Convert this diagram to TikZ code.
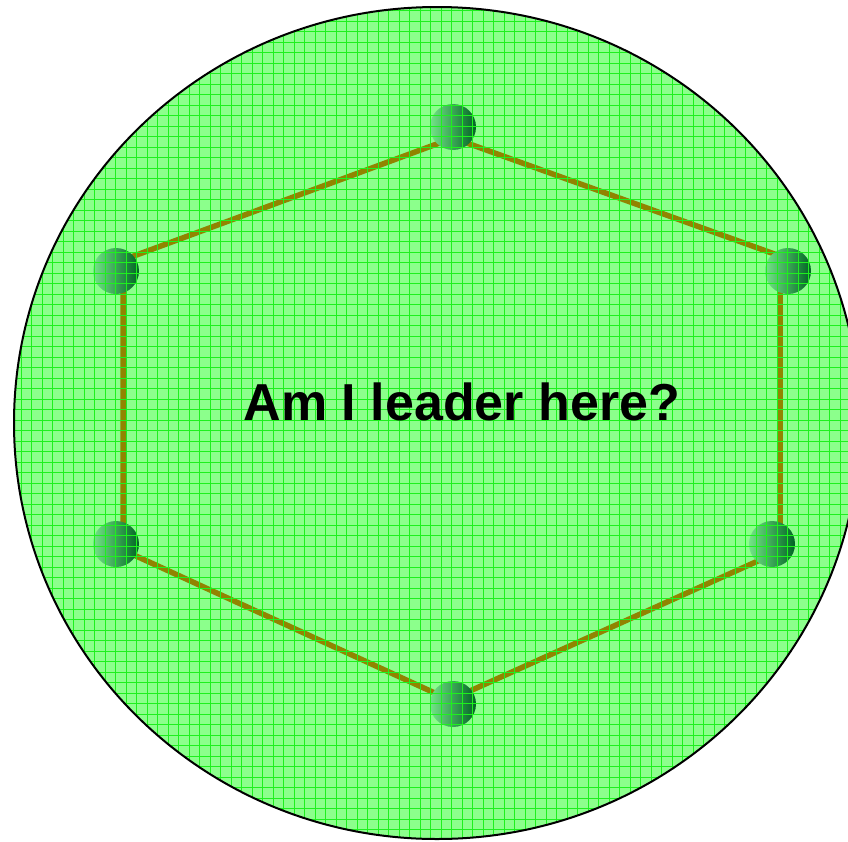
\documentclass[tikz,border=0pt]{standalone}
\usepackage{fontspec}
\setmainfont{Liberation Sans}

\definecolor{disk}{RGB}{140,255,140}
\definecolor{gridgreen}{RGB}{30,240,30}
\definecolor{ring}{RGB}{145,132,0}
\definecolor{balllight}{RGB}{115,228,135}
\definecolor{ballmid}{RGB}{80,200,105}
\definecolor{balldark}{RGB}{0,100,35}

\begin{document}
\begin{tikzpicture}[x=1pt,y=-1pt]
\useasboundingbox (0,0) rectangle (848,841);

% Disk background
\fill[disk] (437,423) ellipse [x radius=423, y radius=416];

% Corners of the ring
\coordinate (cT) at (453,138);
\coordinate (cUR) at (780,256);
\coordinate (cLR) at (780,551);
\coordinate (cB) at (450,700);
\coordinate (cLL) at (123,550);
\coordinate (cUL) at (123,260);

\draw[ring, line width=5.5pt] (cT) -- (cUR) -- (cLR) -- (cB) -- (cLL) -- (cUL) -- cycle;

% Draw the processes
\begin{scope}
\tikzstyle{every node}=[shape=circle,minimum size=46pt,inner sep=0pt,anchor=center,left color=balllight,middle color=ballmid,right color=balldark];
\node (pT) at (453,127) {};
\node (pUR) at (788,271) {};
\node (pLR) at (772,544) {};
\node (pB) at (453,704) {};
\node (pLL) at (116,544) {};
\node (pUL) at (116,271) {};
\end{scope}

% Grid over the disk
\begin{scope}
\clip (437,423) ellipse [x radius=423, y radius=416];
\foreach \i in {0,...,81} {
  \draw[gridgreen, line width=0.8pt] (\i*10.5,0) -- (\i*10.5,841);
  \draw[gridgreen, line width=0.8pt] (0,\i*10.5) -- (848,\i*10.5);
}
\end{scope}

\node[anchor=base, font=\bfseries\fontsize{52}{52}\selectfont] (question) at (462,420) {Am I leader here?};

\draw[black, line width=2pt] (437,423) ellipse [x radius=423, y radius=416];

\end{tikzpicture}
\end{document}
